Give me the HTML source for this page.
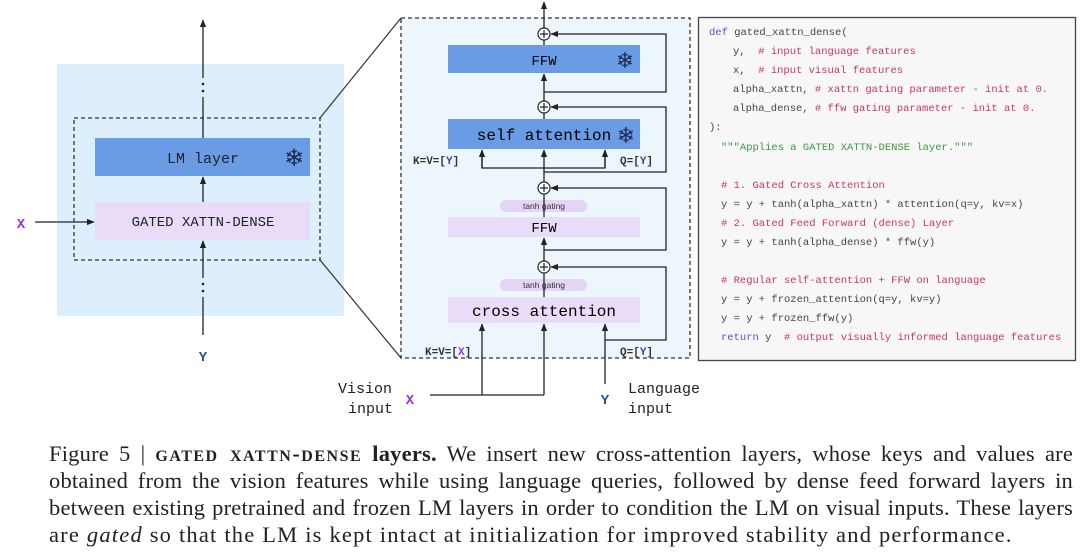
<!DOCTYPE html>
<html><head><meta charset="utf-8"><style>
body{margin:0;width:1080px;height:552px;background:#fff;overflow:hidden;position:relative}
svg{position:absolute;left:0;top:0}
.cap{position:absolute;left:49px;width:1024px;font-family:"Liberation Serif",serif;font-size:22.5px;letter-spacing:0.2px;color:#222;text-align:justify;text-align-last:justify;white-space:nowrap;line-height:27px}
.sc{font-variant:small-caps;font-weight:bold;letter-spacing:1.5px;text-transform:lowercase}
.code text{white-space:pre}
</style></head><body>
<svg width="1080" height="430" viewBox="0 0 1080 430" font-family="Liberation Mono, monospace">
<defs><marker id="a" viewBox="0 0 10 10" refX="9" refY="5" markerWidth="6" markerHeight="6" orient="auto"><path d="M0,1 L10,5 L0,9z" fill="#222"/></marker></defs>
<rect x="57" y="64" width="287" height="252" fill="#ddeefc"/>
<rect x="74" y="118" width="246" height="142" fill="none" stroke="#333" stroke-dasharray="4,3" stroke-width="1.3"/>
<line x1="320" y1="118" x2="401" y2="18" stroke="#333" stroke-width="1.2"/>
<line x1="320" y1="260" x2="401" y2="358" stroke="#333" stroke-width="1.2"/>
<rect x="95" y="138" width="215" height="38" fill="#6a9ce6"/>
<text x="203" y="163" text-anchor="middle" font-size="15" fill="#222">LM layer</text>
<text x="294" y="166" text-anchor="middle" font-size="24" fill="#1a2a50" font-family="DejaVu Sans">❄</text>
<rect x="95" y="202" width="215" height="38" fill="#e8dcf8"/>
<text x="203" y="226" text-anchor="middle" font-size="14" fill="#222">GATED XATTN-DENSE</text>
<line x1="203" y1="202" x2="203" y2="177" stroke="#222" stroke-width="1.3" marker-end="url(#a)"/>
<line x1="203" y1="138" x2="203" y2="97" stroke="#222" stroke-width="1.3"/>
<line x1="203" y1="78" x2="203" y2="20" stroke="#222" stroke-width="1.3" marker-end="url(#a)"/>
<circle cx="203" cy="84" r="1.3" fill="#222"/><circle cx="203" cy="91" r="1.3" fill="#222"/>
<line x1="203" y1="335" x2="203" y2="297" stroke="#222" stroke-width="1.3"/>
<line x1="203" y1="278" x2="203" y2="241" stroke="#222" stroke-width="1.3" marker-end="url(#a)"/>
<circle cx="203" cy="284" r="1.3" fill="#222"/><circle cx="203" cy="291" r="1.3" fill="#222"/>
<line x1="35" y1="222" x2="94" y2="222" stroke="#222" stroke-width="1.3" marker-end="url(#a)"/>
<text x="21" y="228" text-anchor="middle" font-size="14" font-weight="bold" fill="#9a32d8">X</text>
<text x="203" y="361" text-anchor="middle" font-size="14" font-weight="bold" fill="#2a4e9a">Y</text>
<rect x="401" y="18" width="289" height="340" fill="#eef6fd" stroke="#333" stroke-dasharray="4,3" stroke-width="1.3"/>
<rect x="448" y="45" width="192" height="28" fill="#6a9ce6"/>
<text x="544" y="65" text-anchor="middle" font-size="14">FFW</text>
<text x="625" y="68" text-anchor="middle" font-size="22" fill="#1a2a50" font-family="DejaVu Sans">❄</text>
<rect x="448" y="119" width="192" height="30" fill="#6a9ce6"/>
<text x="544" y="140" text-anchor="middle" font-size="16">self attention</text>
<text x="626" y="143" text-anchor="middle" font-size="22" fill="#1a2a50" font-family="DejaVu Sans">❄</text>
<rect x="500" y="200" width="87" height="12" rx="6" fill="#e4d4f6"/>
<text x="544" y="209" text-anchor="middle" font-size="8.5" font-family="Liberation Sans,sans-serif" fill="#333">tanh gating</text>
<rect x="448" y="217" width="192" height="20" fill="#e8dcf8"/>
<text x="544" y="232" text-anchor="middle" font-size="14">FFW</text>
<rect x="500" y="279" width="87" height="12" rx="6" fill="#e4d4f6"/>
<text x="544" y="288" text-anchor="middle" font-size="8.5" font-family="Liberation Sans,sans-serif" fill="#333">tanh gating</text>
<rect x="448" y="297" width="192" height="26" fill="#e8dcf8"/>
<text x="544" y="316" text-anchor="middle" font-size="16">cross attention</text>
<g stroke="#222" stroke-width="1.3" fill="none">
<line x1="544" y1="28" x2="544" y2="2" marker-end="url(#a)"/>
<line x1="544" y1="45" x2="544" y2="40"/>
<line x1="544" y1="101" x2="544" y2="74" marker-end="url(#a)"/>
<line x1="544" y1="119" x2="544" y2="113"/>
<line x1="544" y1="182" x2="544" y2="150" marker-end="url(#a)"/>
<line x1="544" y1="217" x2="544" y2="194"/>
<line x1="544" y1="261" x2="544" y2="238" marker-end="url(#a)"/>
<line x1="544" y1="297" x2="544" y2="273"/>
<polyline points="544,92 666,92 666,34 551,34" marker-end="url(#a)"/>
<polyline points="544,172 666,172 666,107 551,107" marker-end="url(#a)"/>
<polyline points="544,250 666,250 666,188 551,188" marker-end="url(#a)"/>
<polyline points="605,340 666,340 666,267 551,267" marker-end="url(#a)"/>
<polyline points="482,157 482,168 605,168 605,157"/>
<line x1="482" y1="168" x2="482" y2="150" marker-end="url(#a)"/>
<line x1="605" y1="168" x2="605" y2="150" marker-end="url(#a)"/>
<line x1="482" y1="395" x2="482" y2="324" marker-end="url(#a)"/>
<line x1="544" y1="395" x2="544" y2="324" marker-end="url(#a)"/>
<line x1="605" y1="384" x2="605" y2="324" marker-end="url(#a)"/>
<line x1="430" y1="395" x2="544" y2="395"/>
</g>
<g fill="#fff" stroke="#222" stroke-width="1.2"><circle cx="544" cy="34" r="6"/><circle cx="544" cy="107" r="6"/><circle cx="544" cy="188" r="6"/><circle cx="544" cy="267" r="6"/></g>
<g stroke="#222" stroke-width="1.2"><path d="M540,34h8M544,30v8M540,107h8M544,103v8M540,188h8M544,184v8M540,267h8M544,263v8"/></g>
<g font-size="11" font-weight="bold" fill="#333">
<text x="413" y="164">K=V=[<tspan fill="#2a4e9a">Y</tspan>]</text>
<text x="620" y="164">Q=[<tspan fill="#2a4e9a">Y</tspan>]</text>
<text x="425" y="355">K=V=[<tspan fill="#9a32d8">X</tspan>]</text>
<text x="620" y="355">Q=[<tspan fill="#2a4e9a">Y</tspan>]</text>
</g>
<g font-size="15" fill="#222"><text x="338" y="393">Vision</text><text x="348" y="413">input</text>
<text x="628" y="393">Language</text><text x="628" y="413">input</text></g>
<text x="410" y="404" text-anchor="middle" font-size="14" font-weight="bold" fill="#9a32d8">X</text>
<text x="605" y="404" text-anchor="middle" font-size="14" font-weight="bold" fill="#2a4e9a">Y</text>
<rect x="698.5" y="17.5" width="377" height="343" fill="#f7f7f7" stroke="#444" stroke-width="1.3"/>
<g class="code" font-size="10.5" fill="#444">
<text x="709" y="35"><tspan fill="#4a5ab8">def</tspan> gated_xattn_dense(</text>
<text x="733" y="54">y,  <tspan fill="#c8385a"># input language features</tspan></text>
<text x="733" y="73">x,  <tspan fill="#c8385a"># input visual features</tspan></text>
<text x="733" y="92">alpha_xattn, <tspan fill="#c8385a"># xattn gating parameter - init at 0.</tspan></text>
<text x="733" y="111">alpha_dense, <tspan fill="#c8385a"># ffw gating parameter - init at 0.</tspan></text>
<text x="709" y="130">):</text>
<text x="721" y="150" fill="#3a9a3a">"""Applies a GATED XATTN-DENSE layer."""</text>
<text x="721" y="188" fill="#c8385a"># 1. Gated Cross Attention</text>
<text x="721" y="207">y = y + tanh(alpha_xattn) * attention(q=y, kv=x)</text>
<text x="721" y="226" fill="#c8385a"># 2. Gated Feed Forward (dense) Layer</text>
<text x="721" y="245">y = y + tanh(alpha_dense) * ffw(y)</text>
<text x="721" y="283" fill="#c8385a"># Regular self-attention + FFW on language</text>
<text x="721" y="302">y = y + frozen_attention(q=y, kv=y)</text>
<text x="721" y="321">y = y + frozen_ffw(y)</text>
<text x="721" y="340"><tspan fill="#4a5ab8">return</tspan> y  <tspan fill="#c8385a"># output visually informed language features</tspan></text>
</g>
</svg>
<div class="cap" style="top:440px">Figure 5 | <span class="sc">GATED XATTN-DENSE</span> <b>layers.</b> We insert new cross-attention layers, whose keys and values are</div>
<div class="cap" style="top:467px">obtained from the vision features while using language queries, followed by dense feed forward layers in</div>
<div class="cap" style="top:494px">between existing pretrained and frozen LM layers in order to condition the LM on visual inputs. These layers</div>
<div class="cap" style="top:521px;text-align-last:left;letter-spacing:1.2px">are <i>gated</i> so that the LM is kept intact at initialization for improved stability and performance.</div>
</body></html>
